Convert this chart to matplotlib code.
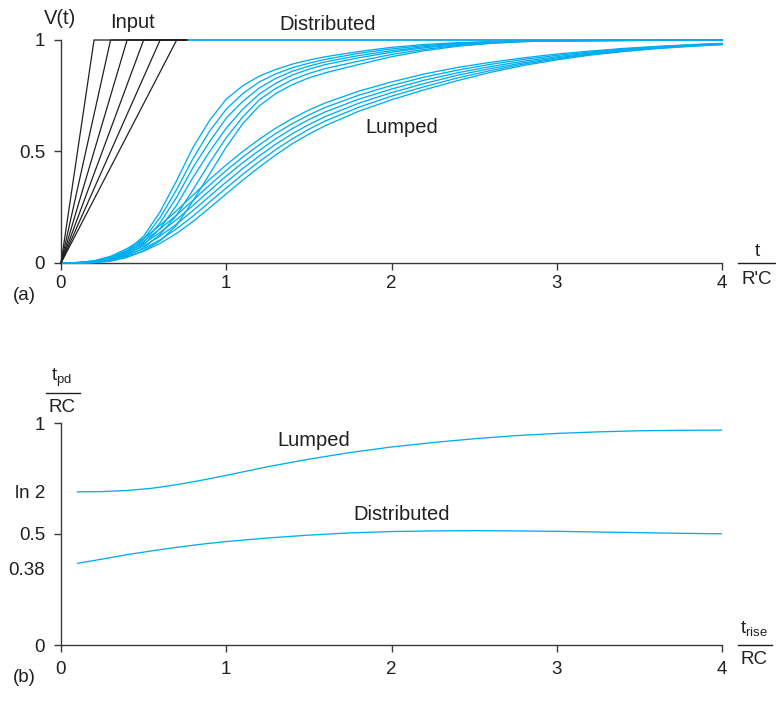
import numpy as np
import matplotlib
matplotlib.use("Agg")
import matplotlib.pyplot as plt
from matplotlib.lines import Line2D

plt.rcParams["font.family"] = ["Liberation Sans", "DejaVu Sans"]
plt.rcParams["mathtext.fontset"] = "custom"
plt.rcParams["mathtext.rm"] = "Liberation Sans"
plt.rcParams["mathtext.it"] = "Liberation Sans:italic"

# ---------------------------------------------------------------------------
# Data
# ---------------------------------------------------------------------------
# (a) ramp inputs: rise times, in units of R'C
rise_times = [0.2, 0.3, 0.4, 0.5, 0.6, 0.7]
input_hold_start = 0.76

# (a) response samples
t_grid = [0, 0.1, 0.2, 0.3, 0.4, 0.5, 0.6, 0.7, 0.8, 0.9, 1.0, 1.1, 1.2, 1.3,
          1.4, 1.5, 1.6, 1.8, 2.0, 2.2, 2.4, 2.6, 2.8, 3.0, 3.2, 3.4, 3.6,
          3.8, 4.0]

dist_02 = [0, 0, 0.004, 0.02, 0.055, 0.12, 0.23, 0.37, 0.52, 0.64, 0.735,
           0.795, 0.838, 0.868, 0.892, 0.91, 0.925, 0.948, 0.967, 0.98, 0.988,
           0.993, 0.996, 0.997, 0.998, 0.998, 0.999, 0.999, 0.999]
dist_03 = [0, 0, 0.0035, 0.017, 0.049, 0.107, 0.204, 0.33, 0.47, 0.592, 0.69,
           0.76, 0.812, 0.848, 0.876, 0.896, 0.913, 0.94, 0.96, 0.975, 0.985,
           0.991, 0.995, 0.997, 0.998, 0.998, 0.999, 0.999, 0.999]
dist_04 = [0, 0, 0.003, 0.015, 0.043, 0.094, 0.18, 0.295, 0.43, 0.545, 0.65,
           0.725, 0.785, 0.828, 0.86, 0.883, 0.902, 0.93, 0.952, 0.97, 0.982,
           0.99, 0.995, 0.997, 0.998, 0.998, 0.999, 0.999, 0.999]
dist_05 = [0, 0, 0.0025, 0.012, 0.037, 0.082, 0.155, 0.26, 0.385, 0.5, 0.605,
           0.69, 0.758, 0.806, 0.843, 0.869, 0.89, 0.92, 0.945, 0.965, 0.979,
           0.988, 0.994, 0.996, 0.997, 0.998, 0.999, 0.999, 0.999]
dist_06 = [0, 0, 0.002, 0.01, 0.031, 0.068, 0.128, 0.215, 0.33, 0.45, 0.562,
           0.655, 0.732, 0.783, 0.822, 0.85, 0.872, 0.905, 0.935, 0.958, 0.975,
           0.986, 0.993, 0.996, 0.997, 0.998, 0.999, 0.999, 0.999]
dist_07 = [0, 0, 0.0015, 0.008, 0.025, 0.055, 0.1, 0.17, 0.28, 0.4, 0.52,
           0.625, 0.705, 0.76, 0.8, 0.83, 0.853, 0.89, 0.925, 0.952, 0.972,
           0.985, 0.993, 0.996, 0.997, 0.998, 0.998, 0.999, 0.999]

lump_02 = [0, 0.002, 0.01, 0.03, 0.065, 0.11, 0.17, 0.235, 0.305, 0.375, 0.44,
           0.5, 0.555, 0.605, 0.648, 0.686, 0.718, 0.77, 0.812, 0.848, 0.877,
           0.9, 0.92, 0.937, 0.95, 0.962, 0.971, 0.979, 0.985]
lump_03 = [0, 0.002, 0.009, 0.026, 0.057, 0.098, 0.153, 0.215, 0.282, 0.35,
           0.415, 0.475, 0.53, 0.581, 0.625, 0.664, 0.698, 0.752, 0.796, 0.834,
           0.865, 0.891, 0.913, 0.931, 0.946, 0.959, 0.969, 0.977, 0.984]
lump_04 = [0, 0.002, 0.008, 0.022, 0.049, 0.087, 0.137, 0.195, 0.259, 0.325,
           0.39, 0.45, 0.505, 0.557, 0.603, 0.643, 0.678, 0.734, 0.78, 0.82,
           0.853, 0.881, 0.905, 0.925, 0.942, 0.956, 0.967, 0.976, 0.983]
lump_05 = [0, 0.001, 0.006, 0.018, 0.042, 0.076, 0.121, 0.175, 0.236, 0.3,
           0.363, 0.424, 0.48, 0.533, 0.58, 0.621, 0.657, 0.716, 0.764, 0.805,
           0.842, 0.872, 0.898, 0.92, 0.938, 0.953, 0.965, 0.975, 0.982]
lump_06 = [0, 0.001, 0.005, 0.015, 0.035, 0.064, 0.104, 0.154, 0.211, 0.274,
           0.336, 0.398, 0.455, 0.509, 0.557, 0.6, 0.637, 0.698, 0.748, 0.791,
           0.83, 0.863, 0.892, 0.915, 0.935, 0.95, 0.963, 0.973, 0.98]
lump_07 = [0, 0.001, 0.004, 0.012, 0.028, 0.053, 0.088, 0.133, 0.187, 0.248,
           0.31, 0.372, 0.43, 0.485, 0.535, 0.578, 0.616, 0.68, 0.732, 0.777,
           0.818, 0.855, 0.886, 0.911, 0.932, 0.948, 0.961, 0.971, 0.979]

distributed_curves = [dist_02, dist_03, dist_04, dist_05, dist_06, dist_07]
lumped_curves = [lump_02, lump_03, lump_04, lump_05, lump_06, lump_07]

# (b) propagation delay vs rise time
t_rise = [0.1, 0.25, 0.4, 0.55, 0.7, 0.85, 1.0, 1.25, 1.5, 1.75, 2.0, 2.25,
          2.5, 2.75, 3.0, 3.25, 3.5, 3.75, 4.0]
tpd_lumped = [0.69, 0.691, 0.696, 0.706, 0.722, 0.742, 0.764, 0.803, 0.837,
              0.867, 0.892, 0.912, 0.929, 0.943, 0.953, 0.96, 0.965, 0.967,
              0.968]
tpd_distributed = [0.368, 0.387, 0.407, 0.424, 0.44, 0.454, 0.466, 0.482,
                   0.495, 0.505, 0.511, 0.514, 0.515, 0.514, 0.512, 0.509,
                   0.506, 0.503, 0.501]

# ---------------------------------------------------------------------------
# Style
# ---------------------------------------------------------------------------
BLUE = "#00AEEF"
INK = "#231F20"
AXIS = "#3a3a3a"
LW = 0.95
TICK_FS = 13.5
LABEL_FS = 14.5

W, H = 776, 716
fig = plt.figure(figsize=(W / 100, H / 100), dpi=100)


def px_axes(left, top, right, bottom):
    return fig.add_axes([left / W, 1 - bottom / H, (right - left) / W, (bottom - top) / H])


def style_axes(ax, xpad):
    for side in ("top", "right"):
        ax.spines[side].set_visible(False)
    for side in ("left", "bottom"):
        ax.spines[side].set_color(AXIS)
        ax.spines[side].set_linewidth(1.0)
    ax.set_xlim(0, 4)
    ax.set_ylim(0, 1)
    ax.set_xticks([0, 1, 2, 3, 4])
    ax.tick_params(axis="both", direction="out", length=5, width=1.0,
                   color=AXIS, labelsize=TICK_FS, labelcolor=INK)
    ax.tick_params(axis="x", pad=xpad)
    ax.tick_params(axis="y", pad=6.5)
    ax.patch.set_alpha(0)


def fraction(xc, top_text, bot_text, y_line, x0, x1, y_top, y_bot):
    fig.text(xc / W, 1 - y_top / H, top_text, ha="center", va="center",
             fontsize=TICK_FS, color=INK)
    fig.text(xc / W, 1 - y_bot / H, bot_text, ha="center", va="center",
             fontsize=TICK_FS, color=INK)
    fig.add_artist(Line2D([x0 / W, x1 / W], [1 - y_line / H, 1 - y_line / H],
                          color=INK, lw=1.0, transform=fig.transFigure))


# ---------------------------------------------------------------------------
# (a) step responses
# ---------------------------------------------------------------------------
ax1 = px_axes(61, 40, 722, 263)
style_axes(ax1, xpad=3.5)
ax1.set_yticks([0, 0.5, 1])
ax1.set_yticklabels(["0", "0.5", "1"])

for curve in distributed_curves + lumped_curves:
    ax1.plot(t_grid, curve, color=BLUE, lw=LW, clip_on=False, zorder=3,
             solid_joinstyle="round")

ax1.plot([input_hold_start, 4], [1, 1], color=BLUE, lw=1.3, clip_on=False, zorder=3)
for tr in rise_times:
    ax1.plot([0, tr, input_hold_start], [0, 1, 1], color=INK, lw=0.9,
             clip_on=False, zorder=4)

ax1.text(-0.006, 1.072, "V(t)", ha="center", va="baseline", fontsize=LABEL_FS,
         color=INK, clip_on=False)
ax1.text(0.43, 1.052, "Input", ha="center", va="baseline", fontsize=LABEL_FS,
         color=INK, clip_on=False)
ax1.text(1.616, 1.045, "Distributed", ha="center", va="baseline",
         fontsize=LABEL_FS, color=INK, clip_on=False)
ax1.text(2.063, 0.583, "Lumped", ha="center", va="baseline", fontsize=LABEL_FS,
         color=INK)

fraction(757, "t", "R'C", 263, 738, 775, 251, 279)
fig.text(24 / W, 1 - 295 / H, "(a)", ha="center", va="center",
         fontsize=TICK_FS, color=INK)

# ---------------------------------------------------------------------------
# (b) delay vs rise time
# ---------------------------------------------------------------------------
ax2 = px_axes(61, 423, 722, 645)
style_axes(ax2, xpad=6.5)
ax2.set_yticks([0, 0.5, 1])
ax2.set_yticklabels(["0", "0.5", "1"])
ax2.set_yticks([0.345, np.log(2)], minor=True)
ax2.set_yticklabels(["0.38", "ln 2"], minor=True)
ax2.tick_params(axis="y", which="minor", length=0, pad=11.5,
                labelsize=TICK_FS, labelcolor=INK)

ax2.plot(t_rise, tpd_lumped, color=BLUE, lw=LW)
ax2.plot(t_rise, tpd_distributed, color=BLUE, lw=LW)

ax2.text(1.53, 0.896, "Lumped", ha="center", va="baseline", fontsize=LABEL_FS,
         color=INK)
ax2.text(2.063, 0.563, "Distributed", ha="center", va="baseline",
         fontsize=LABEL_FS, color=INK)

fraction(62, r"$\mathregular{t_{pd}}$", "RC", 393, 46, 80, 378, 407)
fraction(754, r"$\mathregular{t_{rise}}$", "RC", 645, 738, 772, 629, 660)
fig.text(24 / W, 1 - 677 / H, "(b)", ha="center", va="center",
         fontsize=TICK_FS, color=INK)

fig.savefig("out.png", dpi=100)
